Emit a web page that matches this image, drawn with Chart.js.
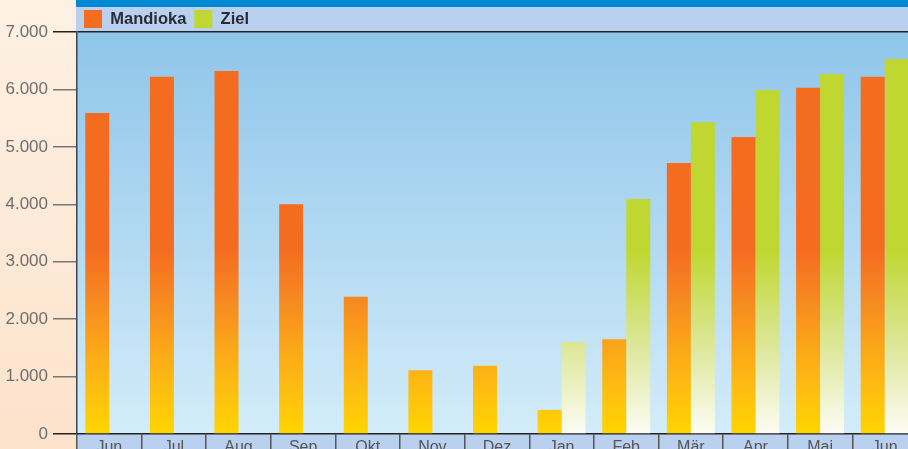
<!DOCTYPE html>
<html><head><meta charset="utf-8">
<script src="https://cdn.jsdelivr.net/npm/chart.js@4/dist/chart.umd.min.js"></script>
<style>
html,body{margin:0;padding:0;overflow:hidden;width:908px;height:449px;background:#fde9d6;}
#wrap{position:absolute;left:0;top:0;width:917px;height:459px;}
</style></head><body>
<div id="wrap"><canvas id="c"></canvas></div>
<script>
const categories = ['Jun','Jul','Aug','Sep','Okt','Nov','Dez','Jan','Feb','Mär','Apr','Mai','Jun'];
const mandioka = [5590, 6220, 6320, 4000, 2390, 1110, 1190, 420, 1650, 4720, 5170, 6030, 6220];
const ziel = [null, null, null, null, null, null, null, 1600, 4090, 5430, 5990, 6270, 6530];
const seriesNames = ['Mandioka', 'Ziel'];
const yMin = 0, yMax = 7000, yStep = 1000;

const FONT = "'Liberation Sans', Arial, Helvetica, sans-serif";
Chart.defaults.font.family = FONT;

const legendColors = ['#f46c20', '#bfd730'];
const mandiokaStops = [[0,'#ffd500'],[0.09,'#fec20f'],[0.2,'#fbaa18'],[0.33,'#f68a20'],[0.46,'#f46c20'],[1,'#f46c20']];
const zielStops = [[0,'#fcfcf4'],[0.23,'#dbe694'],[0.46,'#bfd730'],[1,'#bfd730']];

function barGrad(c, stops) {
  const chart = c.chart, a = chart.chartArea;
  if (!a) return stops[stops.length - 1][1];
  const g = chart.ctx.createLinearGradient(0, a.bottom, 0, a.top);
  stops.forEach(([p, col]) => g.addColorStop(p, col));
  return g;
}

const bgPlugin = {
  id: 'bg',
  afterLayout(chart) { if (chart.legend) { chart.legend.left = 76; chart.legend.top = 2; } },
  beforeDraw(chart) {
    const {ctx, chartArea: a, width, height} = chart;
    ctx.save();
    let g = ctx.createLinearGradient(0, 0, 0, height);
    g.addColorStop(0, '#fdf1e3'); g.addColorStop(1, '#fde2cb');
    ctx.fillStyle = g; ctx.fillRect(0, 0, a.left, height);
    ctx.fillStyle = '#0088d1'; ctx.fillRect(a.left - 1, 0, width, 7);
    ctx.fillStyle = '#b9d0ee'; ctx.fillRect(a.left - 1, 7, width, a.top - 7);
    g = ctx.createLinearGradient(0, a.top, 0, a.bottom);
    g.addColorStop(0, '#8fc5ea'); g.addColorStop(1, '#d3ecf9');
    ctx.fillStyle = g; ctx.fillRect(a.left, a.top, a.right - a.left, a.bottom - a.top);
    ctx.fillStyle = '#b9d0ee'; ctx.fillRect(a.left, a.bottom, width - a.left, height - a.bottom);
    ctx.restore();
  }
};

new Chart(document.getElementById('c'), {
  type: 'bar',
  data: {
    labels: categories,
    datasets: [
      { label: seriesNames[0], data: mandioka, backgroundColor: c => barGrad(c, mandiokaStops), borderWidth: 0, barPercentage: 1, categoryPercentage: 0.743 },
      { label: seriesNames[1], data: ziel, backgroundColor: c => barGrad(c, zielStops), borderWidth: 0, barPercentage: 1, categoryPercentage: 0.743 }
    ]
  },
  options: {
    responsive: true, maintainAspectRatio: false, animation: false,
    layout: { padding: 0 },
    plugins: {
      legend: {
        position: 'top', align: 'start', maxHeight: 32,
        labels: {
          boxWidth: 18, boxHeight: 18, padding: 8, color: '#2b2b38',
          font: { family: FONT, size: 16.5, weight: 'bold' },
          generateLabels(chart) {
            const items = Chart.defaults.plugins.legend.labels.generateLabels(chart);
            items.forEach((it, i) => { it.fillStyle = legendColors[i]; it.lineWidth = 0; it.strokeStyle = 'rgba(0,0,0,0)'; });
            return items;
          }
        }
      },
      tooltip: { enabled: false }
    },
    scales: {
      x: {
        grid: { drawOnChartArea: false, tickLength: 25, tickColor: '#555', lineWidth: 1.5, offset: true },
        border: { color: '#222', width: 1.5 },
        ticks: { color: '#555', font: { size: 16 }, padding: -21, maxRotation: 0, autoSkip: false },
        afterFit(s) { s.height = 25; }
      },
      y: {
        min: yMin, max: yMax,
        ticks: { stepSize: yStep, color: '#6e6e6e', font: { size: 17 }, padding: 5, callback: v => v.toLocaleString('de-DE') },
        grid: {
          drawOnChartArea: true, tickLength: 24, lineWidth: 1.5,
          color: c => (c.tick && c.tick.value === yMax) ? '#222' : 'rgba(0,0,0,0)',
          tickColor: c => (c.tick && (c.tick.value === 0 || c.tick.value === yMax)) ? '#222' : '#777'
        },
        border: { color: '#3a4450', width: 1.5 },
        afterFit(s) { s.width = 77; }
      }
    }
  },
  plugins: [bgPlugin]
});
</script>
</body></html>
